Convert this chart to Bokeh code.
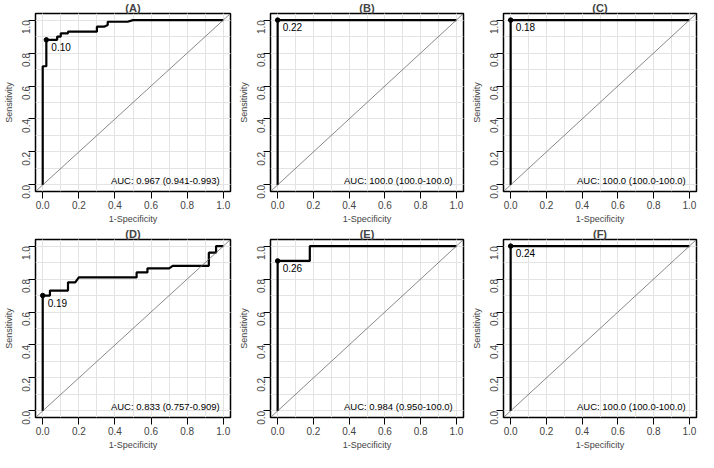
import math
from bokeh.plotting import figure
from bokeh.models import Range1d, FixedTicker, PrintfTickFormatter, Slope, Label
from bokeh.layouts import row, column
from bokeh.embed import file_html
from bokeh.resources import INLINE

# ---- data ----
titles = ["(A)", "(B)", "(C)", "(D)", "(E)", "(F)"]

fpr_a = [0, 0, 0.02, 0.02, 0.08, 0.08, 0.10, 0.10, 0.14, 0.14, 0.30, 0.30, 0.34, 0.36, 0.36, 0.47, 0.50, 1.0]
tpr_a = [0, 0.72, 0.72, 0.88, 0.88, 0.90, 0.90, 0.92, 0.92, 0.93, 0.93, 0.96, 0.96, 0.97, 0.99, 0.99, 1.0, 1.0]

fpr_b = [0, 0, 1.0]
tpr_b = [0, 1.0, 1.0]

fpr_c = [0, 0, 1.0]
tpr_c = [0, 1.0, 1.0]

fpr_d = [0, 0, 0.04, 0.04, 0.14, 0.14, 0.18, 0.20, 0.52, 0.52, 0.58, 0.58, 0.70, 0.72, 0.92, 0.92, 0.96, 0.96, 1.0]
tpr_d = [0, 0.70, 0.70, 0.73, 0.73, 0.78, 0.78, 0.81, 0.81, 0.84, 0.84, 0.865, 0.865, 0.88, 0.88, 0.96, 0.96, 1.0, 1.0]

fpr_e = [0, 0, 0.18, 0.18, 1.0]
tpr_e = [0, 0.91, 0.91, 1.0, 1.0]

fpr_f = [0, 0, 1.0]
tpr_f = [0, 1.0, 1.0]

thr_x = [0.02, 0.0, 0.0, 0.0, 0.0, 0.0]
thr_y = [0.88, 1.0, 1.0, 0.70, 0.91, 1.0]
thr_labels = ["0.10", "0.22", "0.18", "0.19", "0.26", "0.24"]

auc_labels = [
    "AUC: 0.967 (0.941-0.993)",
    "AUC: 100.0 (100.0-100.0)",
    "AUC: 100.0 (100.0-100.0)",
    "AUC: 0.833 (0.757-0.909)",
    "AUC: 0.984 (0.950-100.0)",
    "AUC: 100.0 (100.0-100.0)",
]

x_ticks = [0.0, 0.2, 0.4, 0.6, 0.8, 1.0]
grid_ticks = [0.0, 0.1, 0.2, 0.3, 0.4, 0.5, 0.6, 0.7, 0.8, 0.9, 1.0]

curves = [(fpr_a, tpr_a), (fpr_b, tpr_b), (fpr_c, tpr_c),
          (fpr_d, tpr_d), (fpr_e, tpr_e), (fpr_f, tpr_f)]

FONT = "Liberation Sans"
widths = [235, 233, 230]
rights = [5, 5, 2]
heights = [226, 226]


def make_panel(i):
    col = i % 3
    r = i // 3
    p = figure(width=widths[col], height=heights[r],
               x_range=Range1d(-0.04, 1.04), y_range=Range1d(-0.04, 1.04),
               output_backend="svg", toolbar_location=None,
               min_border_left=20, min_border_right=rights[col],
               min_border_top=0, min_border_bottom=20)
    p.title.text = titles[i]
    p.title.align = "center"
    p.title.text_font = FONT
    p.title.text_font_size = "11px"
    p.title.text_font_style = "bold"
    p.title.text_line_height = 1.0
    p.title.standoff = -1
    p.title.offset = 0

    p.outline_line_color = "black"
    p.outline_line_width = 1.5
    p.background_fill_color = "white"
    p.border_fill_color = "white"

    for ax, lab in ((p.xaxis, "1-Specificity"), (p.yaxis, "Sensitivity")):
        ax.ticker = FixedTicker(ticks=x_ticks, minor_ticks=grid_ticks)
        ax.formatter = PrintfTickFormatter(format="%.1f")
        ax.axis_label = lab
        ax.axis_label_text_font = FONT
        ax.axis_label_text_font_size = "9px"
        ax.axis_label_text_font_style = "normal"
        ax.axis_label_text_line_height = 1.0
        ax.major_label_text_font = FONT
        ax.major_label_text_font_size = "10px"
        ax.major_label_text_line_height = 1.0
        ax.axis_line_color = None
        ax.major_tick_line_color = "black"
        ax.major_tick_line_width = 1
        ax.major_tick_out = 7
        ax.major_tick_in = 0
        ax.minor_tick_line_color = None
    p.xaxis.major_label_standoff = 2
    p.xaxis.axis_label_standoff = 2
    p.yaxis.major_label_orientation = math.pi / 2
    p.yaxis.major_label_standoff = 2
    p.yaxis.axis_label_standoff = 2

    for g in (p.xgrid, p.ygrid):
        g.grid_line_color = "#e3e3e3"
        g.grid_line_width = 1
        g.minor_grid_line_color = "#e3e3e3"
        g.minor_grid_line_width = 1

    p.add_layout(Slope(gradient=1, y_intercept=0, line_color="#6a6a6a", line_width=0.8))

    xs, ys = curves[i]
    p.line(xs, ys, line_color="black", line_width=2.2)

    p.scatter([thr_x[i]], [thr_y[i]], size=4.5, color="black")
    p.text([thr_x[i]], [thr_y[i]], text=[thr_labels[i]], x_offset=5, y_offset=3,
           text_baseline="top", text_align="left", text_font_size="10px",
           text_color="black", text_font={"value": FONT})

    p.add_layout(Label(x=0.98, y=0.028, text=auc_labels[i], text_align="right",
                       text_baseline="middle", text_font=FONT, text_font_size="9.5px",
                       text_color="black"))
    return p


panels = [make_panel(i) for i in range(6)]
layout = column(row(*panels[0:3]), row(*panels[3:6]))

open("out.html", "w").write(file_html(layout, INLINE))
